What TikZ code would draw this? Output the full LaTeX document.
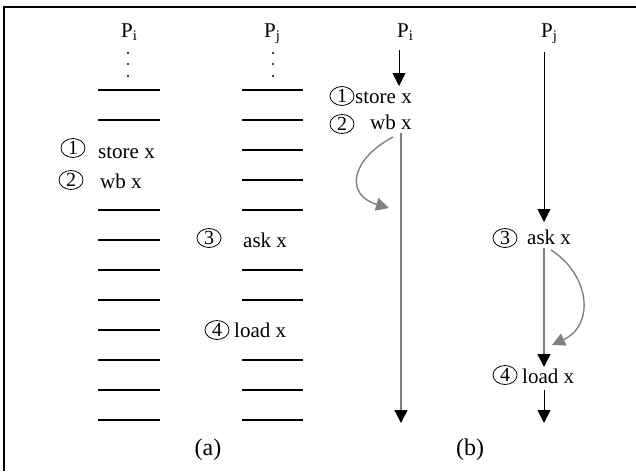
\documentclass[tikz,border=0pt]{standalone}
\usepackage{fontspec}
\setmainfont{Liberation Serif}
\usetikzlibrary{arrows.meta,shapes.geometric}
\tikzset{
  txt/.style={inner sep=0pt, font=\fontsize{21}{24}\selectfont},
  num/.style={ellipse, draw, line width=0.8pt, inner sep=0pt,
    minimum width=24pt, minimum height=19pt, font=\fontsize{20}{22}\selectfont},
  rung/.style={line width=1.6pt},
  flow/.style={line width=0.9pt, -{Triangle[width=13pt,length=13pt]}},
  longflow/.style={gray, line width=1.4pt, -{Triangle[width=13pt,length=13pt,black]}},
  back/.style={gray, line width=1.4pt, -{Triangle[width=13pt,length=13pt]}},
}
\begin{document}
\begin{tikzpicture}[x=1pt,y=-1pt]
    \useasboundingbox (0,0) rectangle (636,471);
    \draw[line width=2pt] (3.5,471) -- (3.5,6.5) -- (636,6.5);

    % (a) ladders
    \node[txt, anchor=base west] (aPi) at (121,37) {P\textsubscript{i}};
    \node[txt, anchor=base west] (aPj) at (264,37) {P\textsubscript{j}};
    \foreach \y in {53,64,76} {
        \fill (128,\y) circle (1.2pt);
        \fill (273,\y) circle (1.2pt);
    }
    \foreach \y in {90,120,210,240,270,300,330,360,390,420}
        \draw[rung] (98,\y) -- (160,\y);
    \foreach \y in {90,120,150,180,210,270,300,360,390,420}
        \draw[rung] (242,\y) -- (303,\y);
    \node[num] (an1) at (73,148) {1};
    \node[txt, anchor=base west] (astore) at (98,158) {store x};
    \node[num] (an2) at (71,180) {2};
    \node[txt, anchor=base west] (awb) at (100,188) {wb x};
    \node[num] (an3) at (209,238) {3};
    \node[txt, anchor=base west] (aask) at (243,247) {ask x};
    \node[num] (an4) at (217,330) {4};
    \node[txt, anchor=base west] (aload) at (234,337) {load x};
    \node[txt, font=\fontsize{24}{26}\selectfont] (alabel) at (208,450) {(a)};

    % (b) time lines
    \node[txt, anchor=base west] (bPi) at (397,37) {P\textsubscript{i}};
    \node[txt, anchor=base west] (bPj) at (541,37) {P\textsubscript{j}};
    \node[num] (bn1) at (342,96) {1};
    \node[txt, anchor=base west] (bstore) at (355,103) {store x};
    \node[num] (bn2) at (342,124) {2};
    \node[txt, anchor=base west] (bwb) at (370,129) {wb x};
    \node[num] (bn3) at (505,238) {3};
    \node[txt, anchor=base west] (bask) at (527,244) {ask x};
    \node[num] (bn4) at (505,375) {4};
    \node[txt, anchor=base west] (bload) at (522,383) {load x};
    \node[txt, font=\fontsize{24}{26}\selectfont] (blabel) at (470,450) {(b)};

    \coordinate (i0) at (399,50);  \coordinate (i1) at (399,86);
    \coordinate (i2) at (401,133); \coordinate (i3) at (401,423);
    \coordinate (j0) at (544,52);  \coordinate (j1) at (544,222);
    \coordinate (j2) at (544,248); \coordinate (j3) at (544,367);
    \coordinate (j4) at (544,390); \coordinate (j5) at (544,423);
    \draw[flow] (i0) -- (i1);
    \draw[longflow] (i2) -- (i3);
    \draw[flow] (j0) -- (j1);
    \draw[longflow] (j2) -- (j3);
    \draw[flow] (j4) -- (j5);

    % gray loops
    \draw[back] (393,137) .. controls (350,160) and (345,195) .. (389,208);
    \draw[back] (551,250) .. controls (590,275) and (595,325) .. (552,345);
\end{tikzpicture}
\end{document}
